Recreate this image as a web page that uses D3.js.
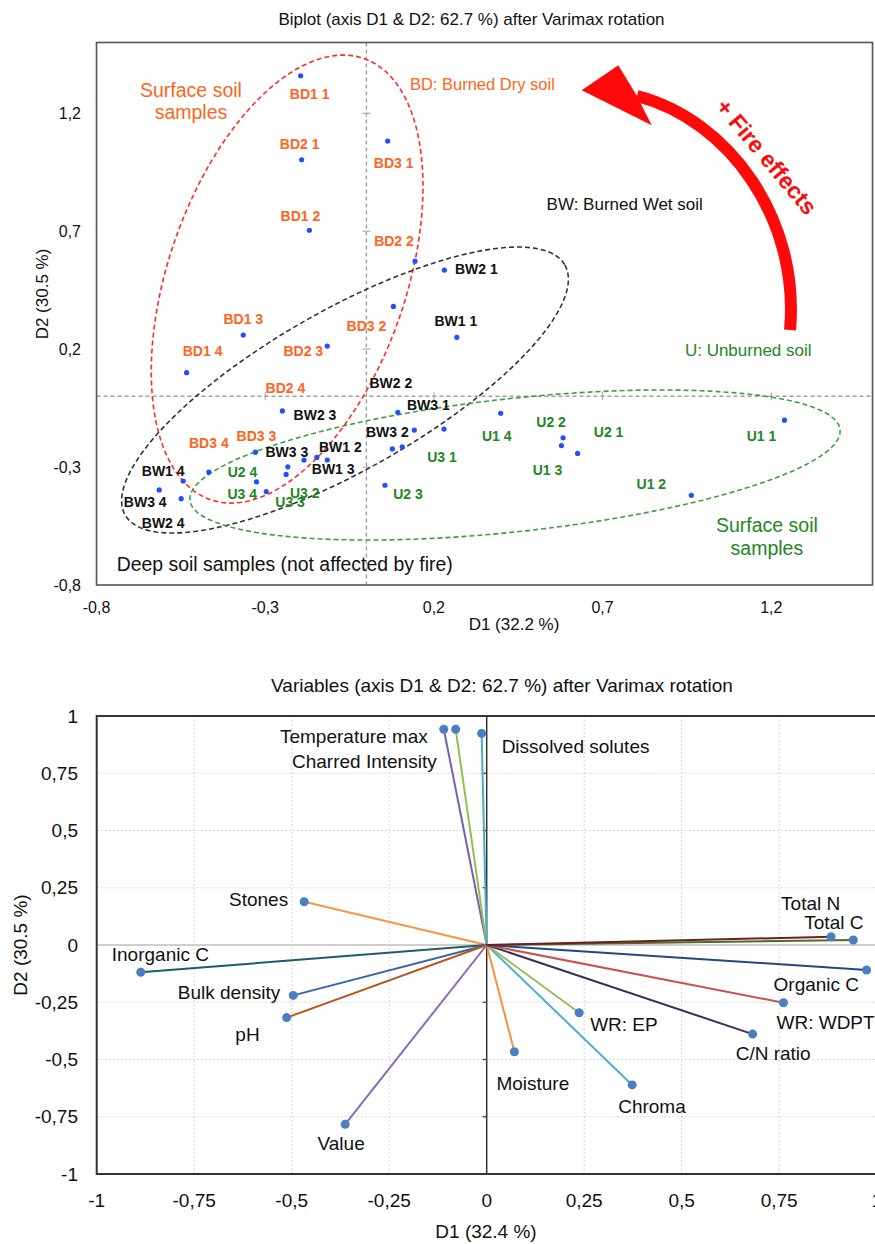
<!DOCTYPE html>
<html><head><meta charset="utf-8">
<script src="https://cdn.jsdelivr.net/npm/d3@7"></script>
<style>
body{margin:0;background:#fff}
svg{display:block}
text{font-family:"Liberation Sans",Arial,Helvetica,sans-serif}
</style>
</head><body>
<svg id="c" width="875" height="1244"></svg>
<script>
// ================= TOP CHART DATA (observations) =================
const bdNames = ["BD1 1","BD2 1","BD3 1","BD1 2","BD2 2","BD3 2","BD1 3","BD2 3","BD3 3","BD1 4","BD2 4","BD3 4"];
const bdD1 = [-0.195,-0.192,0.063,-0.169,0.144,0.080,-0.365,-0.116,-0.329,-0.533,-0.249,-0.467];
const bdD2 = [1.359,1.003,1.082,0.704,0.573,0.381,0.260,0.213,-0.237,0.100,-0.062,-0.321];
const bwNames = ["BW1 1","BW2 1","BW3 1","BW1 2","BW2 2","BW3 2","BW1 3","BW2 3","BW3 3","BW1 4","BW2 4","BW3 4"];
const bwD1 = [0.268,0.231,0.142,-0.116,0.093,0.077,0.106,-0.185,-0.147,-0.543,-0.549,-0.614];
const bwD2 = [0.250,0.535,-0.143,-0.270,-0.068,-0.223,-0.214,-0.270,-0.259,-0.359,-0.434,-0.397];
const uNames = ["U1 1","U2 1","U3 1","U1 2","U2 2","U3 2","U1 3","U2 3","U3 3","U1 4","U2 4","U3 4"];
const uD1 = [1.239,0.626,0.230,0.963,0.583,-0.233,0.578,0.055,-0.238,0.398,-0.326,-0.297];
const uD2 = [-0.101,-0.242,-0.139,-0.420,-0.176,-0.299,-0.209,-0.377,-0.331,-0.072,-0.363,-0.404];
const topTicks = [-0.8,-0.3,0.2,0.7,1.2];
const topTickLabels = ["-0,8","-0,3","0,2","0,7","1,2"];

// group ellipses (data units): center, conjugate semi-axis vectors
const ellGroups = ["BD","BW","U"];
const ellCx = [-0.235,-0.0635,0.4404];
const ellCy = [0.497,0.0266,-0.2913];
const ellAx = [0.2276,0.6517,0.9635];
const ellAy = [0.9351,0.5299,0.1497];
const ellBx = [0.3322,0.1171,0.0213];
const ellBy = [-0.1657,-0.2946,-0.2807];

// ================= BOTTOM CHART DATA (variables) =================
const varNames = ["Temperature max","Charred Intensity","Dissolved solutes","Stones","Inorganic C","Bulk density","pH","Value","Moisture","Chroma","WR: EP","C/N ratio","WR: WDPT","Organic C","Total C","Total N"];
const varD1 = [-0.110,-0.0795,-0.013,-0.468,-0.887,-0.496,-0.513,-0.363,0.071,0.373,0.237,0.682,0.761,0.974,0.940,0.883];
const varD2 = [0.942,0.942,0.924,0.189,-0.119,-0.220,-0.317,-0.783,-0.466,-0.611,-0.296,-0.389,-0.252,-0.109,0.022,0.036];
const botTicks = [-1,-0.75,-0.5,-0.25,0,0.25,0.5,0.75,1];
const botTickLabels = ["-1","-0,75","-0,5","-0,25","0","0,25","0,5","0,75","1"];

// ================= STYLES / LAYOUT =================
const groupColor = {BD:"#ff6420", BW:"#111111", U:"#23861f"};
const ellColor = {BD:"#ff2b2b", BW:"#333333", U:"#3f9f3f"};
const varColor = {"Temperature max":"#7e5cae","Charred Intensity":"#92c050","Dissolved solutes":"#4bacc6","Stones":"#f79646","Inorganic C":"#1f5c6b","Bulk density":"#3867a5","pH":"#b8561c","Value":"#8a6bb5","Moisture":"#f7923a","Chroma":"#4bb0cc","WR: EP":"#9bbb59","C/N ratio":"#3b2f5c","WR: WDPT":"#c9534f","Organic C":"#1f4a7d","Total C":"#4f6a28","Total N":"#6b2020"};
const obsLabelOff = {
 "BD1 1":[9,23],"BD2 1":[-2,-11],"BD3 1":[6,27],"BD1 2":[-9,-9],"BD2 2":[-21,-15],"BD3 2":[-27,25],
 "BD1 3":[0,-11],"BD2 3":[-24,10],"BD3 3":[1,-11],"BD1 4":[16,-17],"BD2 4":[3,-18],"BD3 4":[0,-24],
 "BW1 1":[-1,-11],"BW2 1":[32,4],"BW3 1":[14,-20],"BW1 2":[13,-8],"BW2 2":[-7,-24],"BW3 2":[-5,-12],
 "BW1 3":[-69,27],"BW2 3":[11,-40],"BW3 3":[-30,0],"BW1 4":[-20,-5],"BW2 4":[-18,29],"BW3 4":[-14,17],
 "U1 1":[-23,21],"U2 1":[31,-16],"U3 1":[-2,33],"U1 2":[-40,-6],"U2 2":[-12,-11],"U3 2":[17,31],
 "U1 3":[-14,29],"U2 3":[23,14],"U3 3":[4,33],"U1 4":[-4,28],"U2 4":[-14,-5],"U3 4":[-24,7]
};
const varLabelOff = {
 "Temperature max":["end",-16,14],"Charred Intensity":["end",-19,39],"Dissolved solutes":["start",20,20],
 "Stones":["end",-16,4],"Inorganic C":["start",-29,-11],"Bulk density":["end",-13,4],"pH":["end",-27,23],
 "Value":["middle",-4,26],"Moisture":["start",-18,38],"Chroma":["start",-14,28],"WR: EP":["start",11,18],
 "C/N ratio":["start",-17,26],"WR: WDPT":["start",-7,26],"Organic C":["start",-93,21],
 "Total C":["start",-49,-11],"Total N":["start",-50,-27]
};

const svg = d3.select("#c");

// ================= TOP CHART =================
const x1 = d3.scaleLinear().domain([-0.8,1.5]).range([96.5,872.5]);
const y1 = d3.scaleLinear().domain([-0.8,1.5]).range([585,42.5]);
const gTop = svg.append("g");

gTop.append("text").attr("x",471.5).attr("y",25).attr("text-anchor","middle")
  .attr("font-size",17).attr("fill","#111").text("Biplot (axis D1 & D2: 62.7 %) after Varimax rotation");

gTop.append("line").attr("x1",x1(0)).attr("x2",x1(0)).attr("y1",y1.range()[1]).attr("y2",y1.range()[0])
  .attr("stroke","#a0a0a0").attr("stroke-width",1.4).attr("stroke-dasharray","4,3");
gTop.append("line").attr("y1",y1(0)).attr("y2",y1(0)).attr("x1",x1.range()[0]).attr("x2",x1.range()[1])
  .attr("stroke","#a0a0a0").attr("stroke-width",1.4).attr("stroke-dasharray","4,3");
topTicks.slice(1).forEach(t=>{
  gTop.append("line").attr("x1",x1(0)-4).attr("x2",x1(0)+4).attr("y1",y1(t)).attr("y2",y1(t)).attr("stroke","#a0a0a0").attr("stroke-width",1);
  gTop.append("line").attr("x1",x1(t)).attr("x2",x1(t)).attr("y1",y1(0)-4).attr("y2",y1(0)+4).attr("stroke","#a0a0a0").attr("stroke-width",1);
});

ellGroups.forEach((g,i)=>{
  const pts = d3.range(0,360,2).map(a=>{
    const t=a*Math.PI/180;
    return [x1(ellCx[i]+Math.cos(t)*ellAx[i]+Math.sin(t)*ellBx[i]), y1(ellCy[i]+Math.cos(t)*ellAy[i]+Math.sin(t)*ellBy[i])];
  });
  gTop.append("path").attr("d",d3.line().curve(d3.curveLinearClosed)(pts))
    .attr("fill","none").attr("stroke",ellColor[g]).attr("stroke-width",1.6).attr("stroke-dasharray","5,3");
});

gTop.append("rect").attr("x",x1.range()[0]).attr("y",y1.range()[1])
  .attr("width",x1.range()[1]-x1.range()[0]).attr("height",y1.range()[0]-y1.range()[1])
  .attr("fill","none").attr("stroke","#555").attr("stroke-width",1.6);

topTicks.forEach((t,i)=>{
  gTop.append("text").attr("x",x1(t)).attr("y",613).attr("text-anchor","middle").attr("font-size",16).attr("fill","#111").text(topTickLabels[i]);
  gTop.append("text").attr("x",81).attr("y",y1(t)+5.5).attr("text-anchor","end").attr("font-size",16).attr("fill","#111").text(topTickLabels[i]);
});
gTop.append("text").attr("x",514).attr("y",630).attr("text-anchor","middle").attr("font-size",17).attr("fill","#111").text("D1 (32.2 %)");
gTop.append("text").attr("transform","translate(48,294) rotate(-90)").attr("text-anchor","middle").attr("font-size",17).attr("fill","#111").text("D2 (30.5 %)");

const obs = [];
[["BD",bdNames,bdD1,bdD2],["BW",bwNames,bwD1,bwD2],["U",uNames,uD1,uD2]].forEach(([g,n,a,b])=>{
  n.forEach((name,i)=>obs.push({g,name,d1:a[i],d2:b[i]}));
});
gTop.selectAll("circle.obs").data(obs).join("circle").attr("class","obs")
  .attr("cx",d=>x1(d.d1)).attr("cy",d=>y1(d.d2)).attr("r",2.6).attr("fill","#1f4fff");
gTop.selectAll("text.obs").data(obs).join("text").attr("class","obs")
  .attr("x",d=>x1(d.d1)+obsLabelOff[d.name][0]).attr("y",d=>y1(d.d2)+obsLabelOff[d.name][1])
  .attr("text-anchor","middle").attr("font-size",14).attr("font-weight","bold")
  .attr("fill",d=>groupColor[d.g]).text(d=>d.name);

function ann(txt,dx,dy,anchor,size,color){
  return gTop.append("text").attr("x",x1(dx)).attr("y",y1(dy)).attr("text-anchor",anchor)
    .attr("font-size",size).attr("fill",color).text(txt);
}
ann("Surface soil",-0.520,1.269,"middle",19.5,"#ff6420");
ann("samples",-0.520,1.175,"middle",19.5,"#ff6420");
ann("BD: Burned Dry soil",0.129,1.298,"start",16.5,"#ff6420");
ann("BW: Burned Wet soil",0.534,0.790,"start",17,"#111");
ann("U: Unburned soil",0.944,0.171,"start",17,"#23861f");
ann("Surface soil",1.187,-0.577,"middle",19.5,"#23861f");
ann("samples",1.187,-0.673,"middle",19.5,"#23861f");
ann("Deep soil samples (not affected by fire)",-0.740,-0.739,"start",19.4,"#111");

const arrowCurve = [[1.2555,0.281],[1.2851,0.747],[1.0776,1.171],[0.802,1.273]];
const arrowHead = [[0.638,1.298],[0.7465,1.404],[0.802,1.273],[0.8455,1.1496]];
const p = d3.path();
p.moveTo(x1(arrowCurve[0][0]),y1(arrowCurve[0][1]));
p.bezierCurveTo(x1(arrowCurve[1][0]),y1(arrowCurve[1][1]),x1(arrowCurve[2][0]),y1(arrowCurve[2][1]),x1(arrowCurve[3][0]),y1(arrowCurve[3][1]));
gTop.append("path").attr("d",p.toString()).attr("fill","none").attr("stroke","#ff0a0a").attr("stroke-width",12);
gTop.append("path").attr("d",d3.line()(arrowHead.map(d=>[x1(d[0]),y1(d[1])]))+"Z").attr("fill","#ff0a0a");
gTop.append("text").attr("transform",`translate(${x1(1.1864)},${y1(1.016)}) rotate(50)`)
  .attr("text-anchor","middle").attr("dy","0.35em").attr("font-size",23).attr("font-weight","bold")
  .attr("fill","#ff0a0a").text("+ Fire effects");

// ================= BOTTOM CHART =================
const x2 = d3.scaleLinear().domain([-1,1]).range([96.7,876.7]);
const y2 = d3.scaleLinear().domain([-1,1]).range([1174,716]);
const gBot = svg.append("g");

gBot.append("text").attr("x",502).attr("y",692).attr("text-anchor","middle").attr("font-size",19).attr("fill","#111")
  .text("Variables (axis D1 & D2: 62.7 %) after Varimax rotation");

botTicks.filter(t=>Math.abs(t)!==1 && t!==0).forEach(t=>{
  gBot.append("line").attr("x1",x2(t)).attr("x2",x2(t)).attr("y1",y2(1)).attr("y2",y2(-1)).attr("stroke","#d6d6d6").attr("stroke-width",1).attr("stroke-dasharray","2,2");
  gBot.append("line").attr("y1",y2(t)).attr("y2",y2(t)).attr("x1",x2(-1)).attr("x2",x2(1)).attr("stroke","#d6d6d6").attr("stroke-width",1).attr("stroke-dasharray","2,2");
});
gBot.append("line").attr("y1",y2(0)).attr("y2",y2(0)).attr("x1",x2(-1)).attr("x2",x2(1)).attr("stroke","#cfcfcf").attr("stroke-width",2);
gBot.append("line").attr("x1",x2(0)).attr("x2",x2(0)).attr("y1",y2(1)).attr("y2",y2(-1)).attr("stroke","#333").attr("stroke-width",1.5);
botTicks.forEach(t=>{
  gBot.append("line").attr("x1",x2(0)-4).attr("x2",x2(0)).attr("y1",y2(t)).attr("y2",y2(t)).attr("stroke","#333").attr("stroke-width",1.2);
});
gBot.append("rect").attr("x",x2(-1)).attr("y",y2(1)).attr("width",x2(1)-x2(-1)).attr("height",y2(-1)-y2(1))
  .attr("fill","none").attr("stroke","#333").attr("stroke-width",2);

botTicks.forEach((t,i)=>{
  gBot.append("text").attr("x",x2(t)).attr("y",1207).attr("text-anchor","middle").attr("font-size",19).attr("fill","#111").text(botTickLabels[i]);
  gBot.append("text").attr("x",78).attr("y",y2(t)+6.5).attr("text-anchor","end").attr("font-size",19).attr("fill","#111").text(botTickLabels[i]);
});
gBot.append("text").attr("x",486).attr("y",1238).attr("text-anchor","middle").attr("font-size",19).attr("fill","#111").text("D1 (32.4 %)");
gBot.append("text").attr("transform","translate(27,945) rotate(-90)").attr("text-anchor","middle").attr("font-size",19).attr("fill","#111").text("D2 (30.5 %)");

const vars = varNames.map((n,i)=>({name:n,d1:varD1[i],d2:varD2[i]}));
gBot.selectAll("line.v").data(vars).join("line").attr("class","v")
  .attr("x1",x2(0)).attr("y1",y2(0)).attr("x2",d=>x2(d.d1)).attr("y2",d=>y2(d.d2))
  .attr("stroke",d=>varColor[d.name]).attr("stroke-width",2);
gBot.selectAll("circle.v").data(vars).join("circle").attr("class","v")
  .attr("cx",d=>x2(d.d1)).attr("cy",d=>y2(d.d2)).attr("r",4.5).attr("fill","#4a7ec4");
gBot.selectAll("text.v").data(vars).join("text").attr("class","v")
  .attr("x",d=>x2(d.d1)+varLabelOff[d.name][1]).attr("y",d=>y2(d.d2)+varLabelOff[d.name][2])
  .attr("text-anchor",d=>varLabelOff[d.name][0]).attr("font-size",19).attr("fill","#111").text(d=>d.name);
</script>
</body></html>
